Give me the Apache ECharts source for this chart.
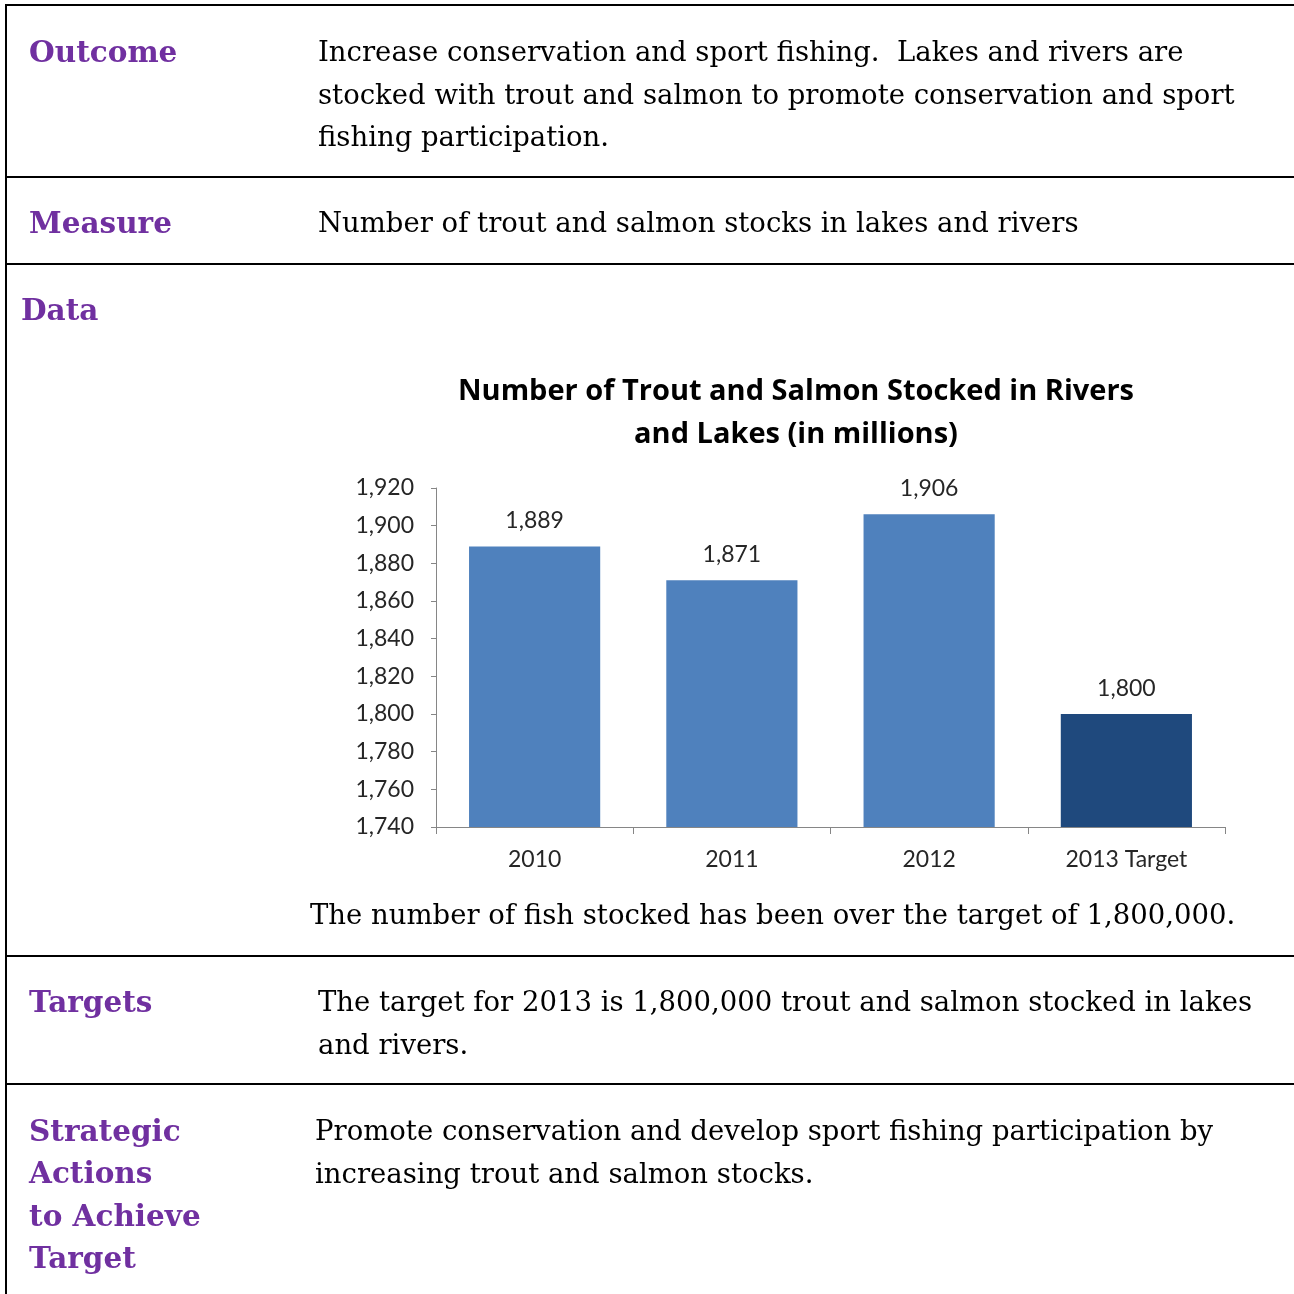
<!DOCTYPE html>
<html>
<head>
<meta charset="utf-8">
<script src="https://cdn.jsdelivr.net/npm/echarts@6/dist/echarts.min.js"></script>
<style>
  html, body { margin: 0; padding: 0; background: #fff; }
  #page { width: 1294px; height: 1294px; }
</style>
</head>
<body>
<div id="page"></div>
<script>
// chart data
var years = ["2010", "2011", "2012", "2013 Target"];
var stocked = [1889, 1871, 1906, 1800];
var barColors = ["#4F81BD", "#4F81BD", "#4F81BD", "#1F497D"];
var yTicks = [1740, 1760, 1780, 1800, 1820, 1840, 1860, 1880, 1900, 1920];

// document text (y = top of the first line)
var rowLabels = [
  { lines: ["Outcome"], x: 29, y: 39 },
  { lines: ["Measure"], x: 29, y: 210 },
  { lines: ["Data"], x: 21, y: 297 },
  { lines: ["Targets"], x: 29, y: 989 },
  { lines: ["Strategic", "Actions", "to Achieve", "Target"], x: 29, y: 1118 }
];
var rowTexts = [
  { lines: ["Increase conservation and sport fishing.  Lakes and rivers are",
            "stocked with trout and salmon to promote conservation and sport",
            "fishing participation."], x: 318, y: 40 },
  { lines: ["Number of trout and salmon stocks in lakes and rivers"], x: 318, y: 211 },
  { lines: ["The number of fish stocked has been over the target of 1,800,000."], x: 310, y: 903 },
  { lines: ["The target for 2013 is 1,800,000 trout and salmon stocked in lakes",
            "and rivers."], x: 318, y: 990 },
  { lines: ["Promote conservation and develop sport fishing participation by",
            "increasing trout and salmon stocks."], x: 315, y: 1119 }
];
var chartTitle = ["Number of Trout and Salmon Stocked in Rivers", "and Lakes (in millions)"];
var ruleRows = [5, 177, 264, 956, 1084];

var serif = "DejaVu Serif";
var sans = "Lato";
var lineGap = 42.5;

function fmt(v) {
  return String(v).replace(/\B(?=(\d{3})+(?!\d))/g, ",");
}

var graphics = [];

ruleRows.forEach(function (y) {
  graphics.push({
    type: "line",
    shape: { x1: 5, y1: y, x2: 1294, y2: y },
    style: { stroke: "#000", lineWidth: 2 }
  });
});
graphics.push({
  type: "line",
  shape: { x1: 6, y1: 4, x2: 6, y2: 1294 },
  style: { stroke: "#000", lineWidth: 2 }
});

rowLabels.forEach(function (r) {
  r.lines.forEach(function (t, i) {
    graphics.push({
      type: "text",
      x: r.x, y: r.y + i * lineGap,
      style: {
        text: t, fill: "#7030A0",
        font: "bold 29.5px '" + serif + "'",
        verticalAlign: "top"
      }
    });
  });
});

rowTexts.forEach(function (r) {
  r.lines.forEach(function (t, i) {
    graphics.push({
      type: "text",
      x: r.x, y: r.y + i * lineGap,
      style: {
        text: t, fill: "#000",
        font: "27.5px '" + serif + "'",
        verticalAlign: "top"
      }
    });
  });
});

chartTitle.forEach(function (t, i) {
  graphics.push({
    type: "text",
    x: 796, y: 377 + i * 43,
    style: {
      text: t, fill: "#000",
      font: "bold 29px 'Open Sans'",
      align: "center",
      verticalAlign: "top"
    }
  });
});

var myChart = echarts.init(document.getElementById("page"));
var option = {
  animation: false,
  backgroundColor: "#fff",
  grid: { left: 436, top: 488, width: 789, height: 339, containLabel: false },
  xAxis: {
    type: "category",
    data: years,
    axisLine: { lineStyle: { color: "#868686", width: 1 } },
    axisTick: { show: true, length: 7, lineStyle: { color: "#868686" } },
    axisLabel: { color: "#262626", fontFamily: sans, fontSize: 23, margin: 21 }
  },
  yAxis: {
    type: "value",
    min: yTicks[0],
    max: yTicks[yTicks.length - 1],
    interval: 20,
    axisLine: { show: true, lineStyle: { color: "#868686", width: 1 } },
    axisTick: { show: true, length: 5, lineStyle: { color: "#868686" } },
    splitLine: { show: false },
    axisLabel: {
      color: "#262626", fontFamily: sans, fontSize: 23, margin: 22,
      formatter: function (v) { return fmt(v); }
    }
  },
  series: [
    {
      type: "bar",
      barWidth: "66.5%",
      data: stocked.map(function (v, i) {
        return { value: v, itemStyle: { color: barColors[i] } };
      }),
      label: {
        show: true,
        position: "top",
        distance: 14,
        color: "#262626",
        fontFamily: sans,
        fontSize: 23,
        formatter: function (p) { return fmt(p.value); }
      }
    }
  ],
  graphic: graphics
};
myChart.setOption(option);
</script>
</body>
</html>
